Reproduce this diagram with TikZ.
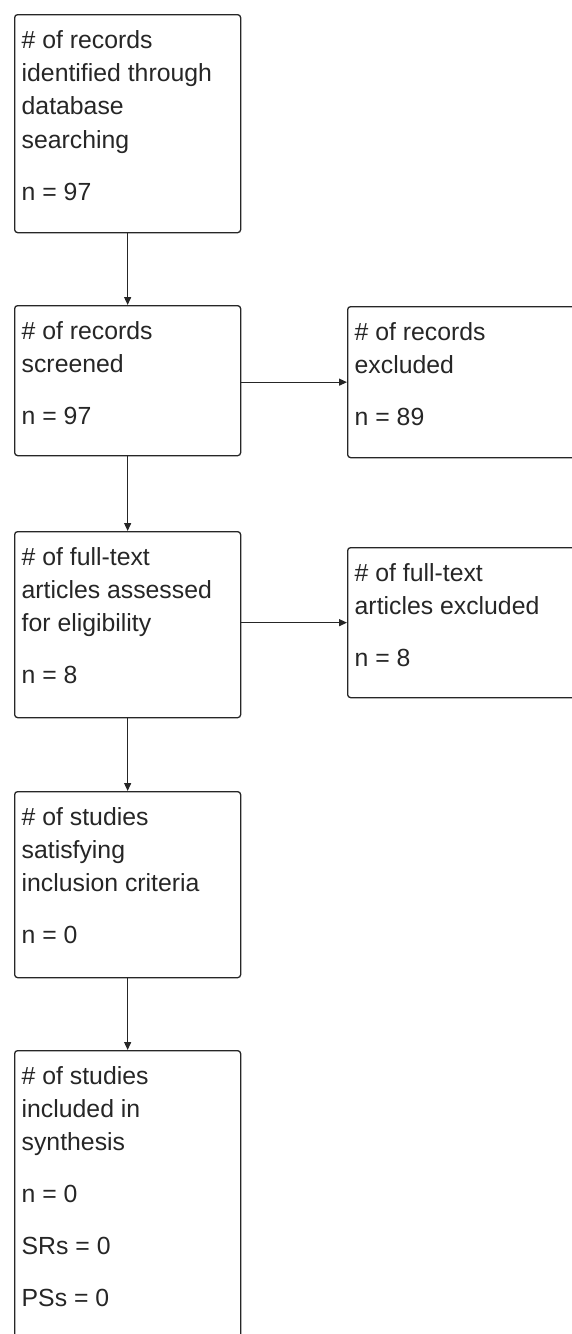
\documentclass[tikz,border=0pt]{standalone}
\usepackage{fontspec}
\setmainfont{Liberation Sans}
\usetikzlibrary{arrows.meta,calc}
\begin{document}
\begin{tikzpicture}[x=1pt,y=-1pt,
  box/.style={draw=black!85, line width=1.3pt, rounded corners=3pt, rectangle,
    inner sep=0pt, minimum width=226pt, anchor=north west},
  rbox/.style={box, minimum width=228pt},
  txt/.style={anchor=north west, inner sep=0pt, align=left, text=black!85,
    font=\fontsize{24.8}{33.3}\selectfont},
  arr/.style={draw=black!85, line width=1.3pt, -{Triangle[length=8pt,width=7pt]}}]
\useasboundingbox (0,0) rectangle (571,1334);
% boxes
\node[box, minimum height=218pt] (b1) at (14,14) {};
\node[box, minimum height=150pt] (b2) at (14,305) {};
\node[box, minimum height=186pt] (b3) at (14,531) {};
\node[box, minimum height=186pt] (b4) at (14,791) {};
\node[box, minimum height=300pt] (b5) at (14,1050) {};
\node[rbox, minimum height=151pt] (r1) at (347,306) {};
\node[rbox, minimum height=150pt] (r2) at (347,547) {};
% texts
\node[txt] (t1) at ($(b1.north west)+(7.5,10.7)$) {\strut\# of records\\identified through\\database\\searching\\[18.7pt]n = 97};
\node[txt] (t2) at ($(b2.north west)+(7.5,10.7)$) {\strut\# of records\\screened\\[18.7pt]n = 97};
\node[txt] (t3) at ($(b3.north west)+(7.5,10.7)$) {\strut\# of full-text\\articles assessed\\for eligibility\\[18.7pt]n = 8};
\node[txt] (t4) at ($(b4.north west)+(7.5,10.7)$) {\strut\# of studies\\satisfying\\inclusion criteria\\[18.7pt]n = 0};
\node[txt] (t5) at ($(b5.north west)+(7.5,10.7)$) {\strut\# of studies\\included in\\synthesis\\[18.7pt]n = 0\\[18.7pt]SRs = 0\\[18.7pt]PSs = 0};
\node[txt] (t6) at ($(r1.north west)+(7.5,10.7)$) {\strut\# of records\\excluded\\[18.7pt]n = 89};
\node[txt] (t7) at ($(r2.north west)+(7.5,10.7)$) {\strut\# of full-text\\articles excluded\\[18.7pt]n = 8};
% connectors
\draw[arr] (b1.south) -- (b2.north);
\draw[arr] (b2.south) -- (b3.north);
\draw[arr] (b3.south) -- (b4.north);
\draw[arr] (b4.south) -- (b5.north);
\draw[arr] (b2.east |- r1.west) -- (r1.west);
\draw[arr] (b3.east |- r2.west) -- (r2.west);
\end{tikzpicture}
\end{document}
